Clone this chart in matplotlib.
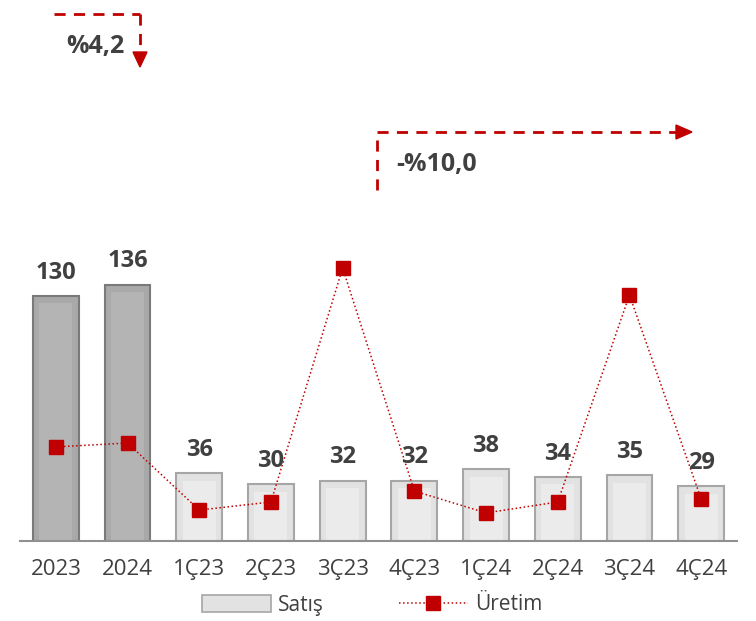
import matplotlib.pyplot as plt
from matplotlib.lines import Line2D
from matplotlib.patches import Patch, Polygon

plt.rcParams['font.family'] = ['Open Sans', 'DejaVu Sans']

# data
periods = ["2023", "2024", "1Ç23", "2Ç23", "3Ç23", "4Ç23", "1Ç24", "2Ç24", "3Ç24", "4Ç24"]
satis = [130, 136, 36, 30, 32, 32, 38, 34, 35, 29]
uretim = [49.9, 52.0, 16.4, 20.7, 144.8, 26.5, 14.9, 20.7, 130.5, 22.3]
change_year = "%4,2"
change_quarter = "-%10,0"

red = "#c00000"
txt = "#404040"

W, H = 756, 621
fig = plt.figure(figsize=(W / 100, H / 100), dpi=100)
ax = fig.add_axes([20 / W, (H - 541) / H, 717 / W, 301.6 / H])

x = list(range(len(periods)))
face = ["#a9a9a9" if i < 2 else "#e2e2e2" for i in x]
edge = ["#7a7a7a" if i < 2 else "#a6a6a6" for i in x]
inner = ["#b4b4b4" if i < 2 else "#ebebeb" for i in x]

ax.bar(x, satis, width=0.64, color=face, edgecolor=edge, linewidth=1.5, zorder=2)
# simple bevel look
ax.bar(x, [v - 4 for v in satis], width=0.46, color=inner, linewidth=0, zorder=2.5)

for xi, v in zip(x, satis):
    ax.text(xi, v + 6, str(v), ha="center", va="bottom", fontsize=17,
            fontweight="bold", color=txt, zorder=5)

ax.plot(x, uretim, color=red, linestyle=":", linewidth=1.1, marker="s",
        markersize=10, markerfacecolor=red, markeredgecolor=red, zorder=4)

ax.set_xlim(-0.5, len(periods) - 0.5)
ax.set_ylim(0, 160)
ax.set_xticks(x)
ax.set_xticklabels(periods, fontsize=16, color=txt)
ax.tick_params(axis="x", length=0, pad=13)
ax.set_yticks([])
for s in ["top", "right", "left"]:
    ax.spines[s].set_visible(False)
ax.spines["bottom"].set_color("#909090")
ax.spines["bottom"].set_linewidth(1.5)

# change arrows (figure pixel coords)
def fx(px):
    return px / W

def fy(py):
    return 1 - py / H

dash = dict(color=red, linewidth=2, linestyle=(0, (4, 3)), transform=fig.transFigure)
fig.add_artist(Line2D([fx(54), fx(140)], [fy(14), fy(14)], **dash))
fig.add_artist(Line2D([fx(140), fx(140)], [fy(14), fy(52)], **dash))
fig.add_artist(Polygon([[fx(133), fy(52)], [fx(147), fy(52)], [fx(140), fy(67)]],
                       closed=True, color=red, transform=fig.transFigure))
fig.text(fx(95), fy(47), change_year, ha="center", va="center", fontsize=18,
         fontweight="bold", color=txt)

fig.add_artist(Line2D([fx(377), fx(377)], [fy(190), fy(132)], **dash))
fig.add_artist(Line2D([fx(377), fx(676)], [fy(132), fy(132)], **dash))
fig.add_artist(Polygon([[fx(676), fy(125)], [fx(676), fy(139)], [fx(692), fy(132)]],
                       closed=True, color=red, transform=fig.transFigure))
fig.text(fx(437), fy(164), change_quarter, ha="center", va="center", fontsize=18,
         fontweight="bold", color=txt)

handles = [
    Patch(facecolor="#e2e2e2", edgecolor="#a6a6a6", linewidth=1.2),
    Line2D([], [], color=red, linestyle=":", linewidth=1.1, marker="s",
           markersize=10, markerfacecolor=red),
]
fig.legend(handles, ["Satış", "Üretim"], loc="center", bbox_to_anchor=(0.492, fy(605)),
           ncol=2, frameon=False, fontsize=15, handlelength=3.3, handleheight=0.9,
           columnspacing=3.6, handletextpad=0.35, labelcolor=txt)

fig.savefig("out.png", dpi=100)
